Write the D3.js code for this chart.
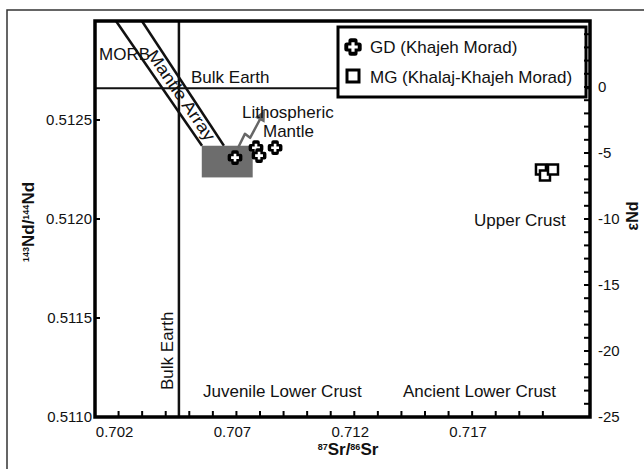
<!DOCTYPE html>
<html>
<head>
<meta charset="utf-8">
<script src="https://cdn.jsdelivr.net/npm/d3@7"></script>
<style>
body{margin:0;background:#fff;}
text{font-family:"Liberation Sans",Arial,sans-serif;fill:#111;}
</style>
</head>
<body>
<svg id="chart" width="644" height="469"></svg>
<script>
// axis values
var srTicks = d3.range(702, 721).map(function(v){ return v / 1000; });
var srLabels = [0.702, 0.707, 0.712, 0.717];
var ndLabels = [0.5110, 0.5115, 0.5120, 0.5125];
var epsTicks = d3.range(-25, 6);
var epsLabels = [-25, -20, -15, -10, -5, 0];

// reference values
var bulkSr = 0.70456;
var bulkNd = 0.51266;

// mantle array band (two lines) and lithospheric mantle box
var mantleLeft = [[0.70189, 0.513], [0.70554, 0.51237]];
var mantleRight = [[0.70299, 0.513], [0.70647, 0.51237]];
var lithoBox = [[0.70553, 0.51237], [0.70769, 0.51221]];
var lithoArrow = [[0.70707, 0.51236], [0.70736, 0.51243], [0.70758, 0.51241], [0.70803, 0.51251]];

// samples
var gdSr = [0.70694, 0.70783, 0.70796, 0.70864];
var gdNd = [0.51231, 0.51236, 0.51232, 0.51236];
var mgSr = [0.71992, 0.72009, 0.72043];
var mgNd = [0.51225, 0.51222, 0.51225];

var svg = d3.select('#chart');
var mLeft = 95, mRight = 590, mTop = 21, mBottom = 417;

var x = d3.scaleLinear().domain([0.701, 0.722]).range([mLeft, mRight]);
var y = d3.scaleLinear().domain([0.511, 0.513]).range([mBottom, mTop]);
var eps = d3.scaleLinear().domain([-25, 5]).range([mBottom, mTop]);

// outer frame
svg.append('rect')
	.attr('x', 7).attr('y', 10)
	.attr('width', 660).attr('height', 480)
	.attr('fill', 'none')
	.attr('stroke', '#333')
	.attr('stroke-width', 1.5);

var plot = svg.append('g');

// bulk earth lines
plot.append('line')
	.attr('x1', mLeft).attr('x2', mRight)
	.attr('y1', y(bulkNd)).attr('y2', y(bulkNd))
	.attr('stroke', '#111').attr('stroke-width', 2);
plot.append('line')
	.attr('x1', x(bulkSr)).attr('x2', x(bulkSr))
	.attr('y1', mTop).attr('y2', mBottom)
	.attr('stroke', '#111').attr('stroke-width', 2.5);

// mantle array
var line = d3.line().x(function(d){ return x(d[0]); }).y(function(d){ return y(d[1]); });
[mantleLeft, mantleRight].forEach(function(l){
	plot.append('path')
		.attr('d', line(l))
		.attr('fill', 'none')
		.attr('stroke', '#111')
		.attr('stroke-width', 2.5);
});

var ang = Math.atan2(y(mantleLeft[1][1]) - y(mantleLeft[0][1]), x(mantleLeft[1][0]) - x(mantleLeft[0][0])) * 180 / Math.PI;
plot.append('text')
	.attr('transform', 'translate(151,52) rotate(' + ang + ')')
	.attr('dominant-baseline', 'central')
	.attr('font-size', 17)
	.attr('textLength', 106)
	.attr('lengthAdjust', 'spacingAndGlyphs')
	.text('Mantle Array');

// lithospheric mantle box
plot.append('rect')
	.attr('x', x(lithoBox[0][0]))
	.attr('y', y(lithoBox[0][1]))
	.attr('width', x(lithoBox[1][0]) - x(lithoBox[0][0]))
	.attr('height', y(lithoBox[1][1]) - y(lithoBox[0][1]))
	.attr('fill', '#6d6d6d');

// arrow
svg.append('defs').append('marker')
	.attr('id', 'head')
	.attr('viewBox', '0 0 10 10')
	.attr('refX', 2).attr('refY', 5)
	.attr('markerWidth', 5).attr('markerHeight', 4.5)
	.attr('orient', 'auto')
	.append('path')
	.attr('d', 'M0,0L10,5L0,10z')
	.attr('fill', '#666');
plot.append('path')
	.attr('d', line(lithoArrow))
	.attr('fill', 'none')
	.attr('stroke', '#666')
	.attr('stroke-width', 2.5)
	.attr('stroke-linejoin', 'round')
	.attr('marker-end', 'url(#head)');

// annotations
function label(t, px, py){
	return plot.append('text').attr('x', px).attr('y', py).attr('font-size', 17).text(t);
}
label('MORB', 99, 60);
label('Bulk Earth', 191, 83);
label('Lithospheric', 242, 118);
label('Mantle', 263, 137);
label('Upper Crust', 474, 226);
label('Juvenile Lower Crust', 203, 397);
label('Ancient Lower Crust', 403, 397);
plot.append('text')
	.attr('transform', 'translate(173,390) rotate(-90)')
	.attr('font-size', 17)
	.text('Bulk Earth');

// cross marker: black blob with a white plus inside
var cross = d3.symbol().type(d3.symbolCross);
var square = d3.symbol().type(d3.symbolSquare);
function crossMark(g, outer, inner, sw){
	g.append('path')
		.attr('d', cross.size(outer)())
		.attr('fill', '#000').attr('stroke', '#000')
		.attr('stroke-width', sw).attr('stroke-linejoin', 'round');
	g.append('path')
		.attr('d', cross.size(inner)())
		.attr('fill', '#fff');
}

// samples
plot.selectAll('.gd')
	.data(gdSr)
	.enter().append('g')
	.attr('transform', function(d, i){ return 'translate(' + x(d) + ',' + y(gdNd[i]) + ')'; })
	.each(function(){ crossMark(d3.select(this), 64, 34, 4); });
plot.selectAll('.mg')
	.data(mgSr)
	.enter().append('path')
	.attr('d', square.size(100)())
	.attr('transform', function(d, i){ return 'translate(' + x(d) + ',' + y(mgNd[i]) + ')'; })
	.attr('fill', '#fff')
	.attr('stroke', '#000')
	.attr('stroke-width', 2.5);

// legend
var leg = svg.append('g');
leg.append('rect')
	.attr('x', 338).attr('y', 27)
	.attr('width', 248).attr('height', 70)
	.attr('fill', '#fff')
	.attr('stroke', '#000')
	.attr('stroke-width', 3);
crossMark(leg.append('g').attr('transform', 'translate(353,47)'), 85, 50, 5);
leg.append('path')
	.attr('d', square.size(144)())
	.attr('transform', 'translate(353,76)')
	.attr('fill', '#fff').attr('stroke', '#000')
	.attr('stroke-width', 3);
leg.append('text').attr('x', 370).attr('y', 53).attr('font-size', 17).text('GD (Khajeh Morad)');
leg.append('text').attr('x', 370).attr('y', 83).attr('font-size', 17).text('MG (Khalaj-Khajeh Morad)');

// axes
var xAxis = svg.append('g').attr('transform', 'translate(0,' + mBottom + ')');
xAxis.selectAll('line')
	.data(srTicks)
	.enter().append('line')
	.attr('x1', x).attr('x2', x)
	.attr('y1', 0).attr('y2', -6)
	.attr('stroke', '#000').attr('stroke-width', 2);
xAxis.selectAll('text')
	.data(srLabels)
	.enter().append('text')
	.attr('x', function(d){ return x(d) - 4; })
	.attr('y', 20)
	.attr('text-anchor', 'middle')
	.attr('font-size', 15)
	.attr('fill', '#222')
	.text(d3.format('.3f'));

var yAxis = svg.append('g').attr('transform', 'translate(' + mLeft + ',0)');
yAxis.selectAll('line')
	.data(ndLabels)
	.enter().append('line')
	.attr('x1', 0).attr('x2', 5)
	.attr('y1', y).attr('y2', y)
	.attr('stroke', '#000').attr('stroke-width', 2);
yAxis.selectAll('text')
	.data(ndLabels)
	.enter().append('text')
	.attr('x', -3)
	.attr('y', function(d){ return y(d) + 5; })
	.attr('text-anchor', 'end')
	.attr('font-size', 15)
	.attr('fill', '#222')
	.text(d3.format('.4f'));

var eAxis = svg.append('g').attr('transform', 'translate(' + mRight + ',0)');
eAxis.selectAll('line')
	.data(epsTicks)
	.enter().append('line')
	.attr('x1', 0).attr('x2', -6)
	.attr('y1', eps).attr('y2', eps)
	.attr('stroke', '#000').attr('stroke-width', 2);
eAxis.selectAll('text')
	.data(epsLabels)
	.enter().append('text')
	.attr('x', 8)
	.attr('y', function(d){ return eps(d) + 5; })
	.attr('font-size', 15)
	.attr('fill', '#222')
	.text(function(d){ return d; });

// plot frame
svg.append('rect')
	.attr('x', mLeft).attr('y', mTop)
	.attr('width', mRight - mLeft).attr('height', mBottom - mTop)
	.attr('fill', 'none')
	.attr('stroke', '#000')
	.attr('stroke-width', 3.5);

// axis titles
var xt = svg.append('text')
	.attr('x', 348).attr('y', 455)
	.attr('text-anchor', 'middle')
	.attr('font-weight', 'bold')
	.attr('font-size', 17);
xt.append('tspan').attr('font-size', 9).attr('dy', -5).text('87');
xt.append('tspan').attr('dy', 5).text('Sr/');
xt.append('tspan').attr('font-size', 9).attr('dy', -5).text('86');
xt.append('tspan').attr('dy', 5).text('Sr');

var yt = svg.append('text')
	.attr('transform', 'translate(34,222) rotate(-90)')
	.attr('text-anchor', 'middle')
	.attr('font-weight', 'bold')
	.attr('font-size', 17);
yt.append('tspan').attr('font-size', 9).attr('dy', -5).text('143');
yt.append('tspan').attr('dy', 5).text('Nd/');
yt.append('tspan').attr('font-size', 9).attr('dy', -5).text('144');
yt.append('tspan').attr('dy', 5).text('Nd');

svg.append('text')
	.attr('transform', 'translate(638,216) rotate(-90)')
	.attr('text-anchor', 'middle')
	.attr('font-weight', 'bold')
	.attr('font-size', 16)
	.text('εNd');
</script>
</body>
</html>
